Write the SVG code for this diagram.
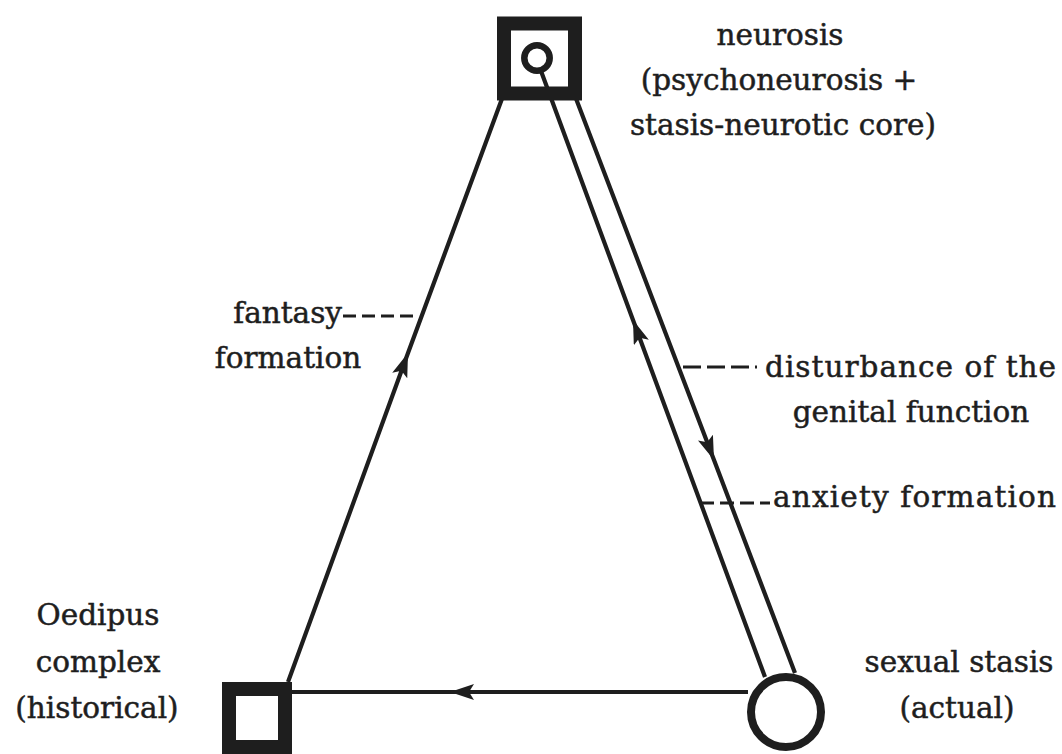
<svg xmlns="http://www.w3.org/2000/svg" width="1062" height="754" viewBox="0 0 1062 754">
<defs>
<style>
.lbl{font-family:"DejaVu Serif","Liberation Serif",serif;font-size:29.5px;fill:#1e1e1e;stroke:#1e1e1e;stroke-width:0.5}
.mid{text-anchor:middle}
.edge{fill:none;stroke:#1e1e1e;stroke-width:4.2;marker-mid:url(#arrow)}
.dash{fill:none;stroke:#1e1e1e;stroke-width:2.8;stroke-dasharray:18 6}
.box{fill:none;stroke:#1e1e1e;stroke-width:14}
.ring{fill:none;stroke:#1e1e1e}
</style>
<marker id="arrow" markerUnits="userSpaceOnUse" viewBox="0 0 24 16" refX="24" refY="8" markerWidth="24" markerHeight="16" orient="auto">
<path d="M0,0 L24,8 L0,16 L5,8 z" fill="#1e1e1e"/>
</marker>
</defs>
<rect width="1062" height="754" fill="#fff"/>
<g id="connectors">
<path class="edge" d="M288,682 L408,353 L503,96"/>
<path class="edge" d="M765,677 L633,320 L541,71"/>
<path class="edge" d="M575,96 L714,460 L795,673"/>
<path class="edge" d="M748,692 L450,692 L292,692"/>
<path class="dash" d="M343,316 L419,316" style="stroke-dasharray:13 6"/>
<path class="dash" d="M683,367 L757,367"/>
<path class="dash" d="M700,503 L770,503" style="stroke-dasharray:14 6"/>
</g>
<g id="neurosis">
<rect class="box" x="504" y="23.5" width="71" height="70"/>
<circle class="ring" cx="537" cy="58" r="12.7" stroke-width="6.5"/>
<text class="lbl mid" x="780" y="45">neurosis</text>
<text class="lbl mid" x="779" y="90">(psychoneurosis  +</text>
<text class="lbl mid" x="783" y="135">stasis-neurotic core)</text>
</g>
<g id="oedipus">
<rect class="box" x="229" y="689" width="56" height="58"/>
<text class="lbl mid" x="98" y="625">Oedipus</text>
<text class="lbl mid" x="98" y="672">complex</text>
<text class="lbl mid" x="97" y="718">(historical)</text>
</g>
<g id="stasis">
<circle class="ring" cx="786" cy="712" r="35" stroke-width="8"/>
<text class="lbl mid" x="959" y="672">sexual stasis</text>
<text class="lbl mid" x="957" y="718">(actual)</text>
</g>
<g id="labels">
<text class="lbl" x="342" y="323" text-anchor="end">fantasy</text>
<text class="lbl mid" x="288" y="368">formation</text>
<text class="lbl" x="765" y="377" textLength="291" lengthAdjust="spacing">disturbance of the</text>
<text class="lbl mid" x="911" y="422">genital function</text>
<text class="lbl" x="773" y="507" textLength="283" lengthAdjust="spacing">anxiety formation</text>
</g>
</svg>
